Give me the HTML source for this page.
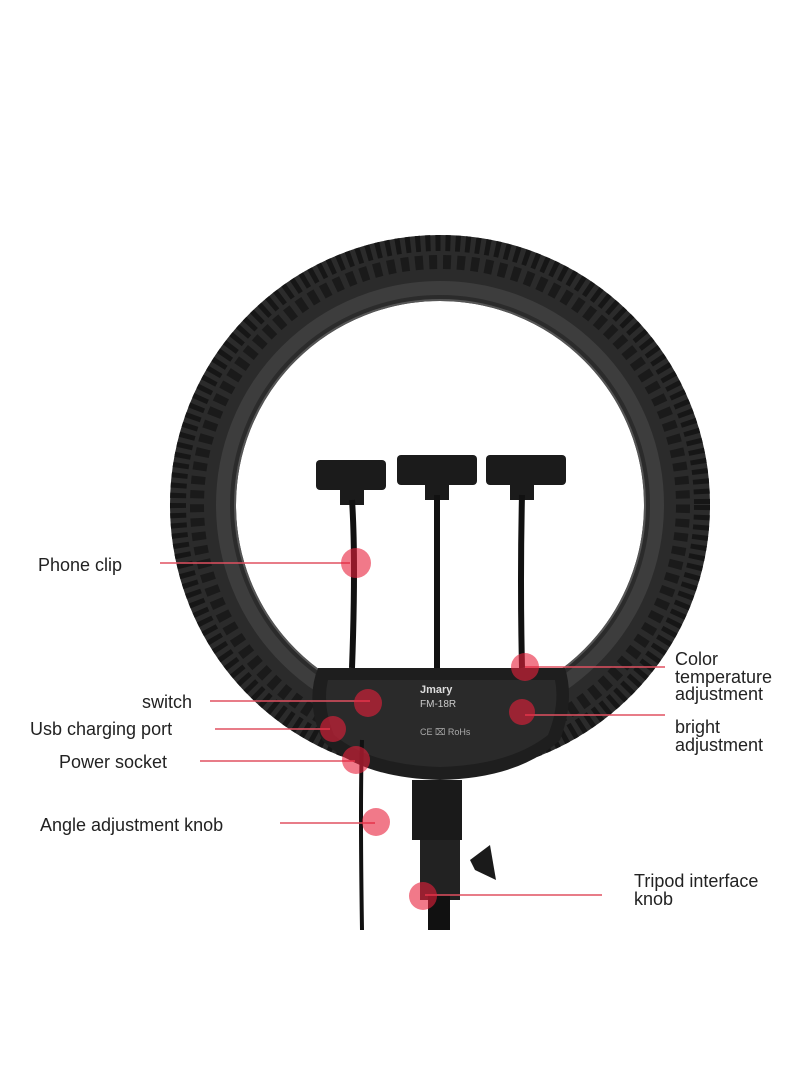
<!DOCTYPE html>
<html><head><meta charset="utf-8"><style>
html,body{margin:0;padding:0;background:#fff;}
svg{display:block}
text{font-family:"Liberation Sans",sans-serif;fill:#222;}
</style></head><body>
<svg width="800" height="1091" viewBox="0 0 800 1091" xmlns="http://www.w3.org/2000/svg">
<defs>
<radialGradient id="rg" cx="50%" cy="50%" r="50%">
<stop offset="0.75" stop-color="#3a3a3a"/><stop offset="0.88" stop-color="#2a2a2a"/><stop offset="1" stop-color="#151515"/>
</radialGradient>
</defs>
<!-- ring -->
<circle cx="440" cy="505" r="237" fill="none" stroke="#2b2b2b" stroke-width="66"/>
<circle cx="440" cy="505" r="262" fill="none" stroke="#161616" stroke-width="16" stroke-dasharray="5 5"/>
<circle cx="440" cy="505" r="243" fill="none" stroke="#1a1a1a" stroke-width="14" stroke-dasharray="8 6"/>
<circle cx="440" cy="505" r="217" fill="none" stroke="#3d3d3d" stroke-width="14"/>
<circle cx="440" cy="505" r="205" fill="none" stroke="#555" stroke-width="2"/>
<!-- control box -->
<path d="M318 668 L565 668 Q575 700 560 740 Q520 778 440 780 Q360 778 322 740 Q305 700 318 668 Z" fill="#1e1e1e"/>
<path d="M328 680 L555 680 Q560 705 548 735 Q510 765 440 767 Q370 765 334 735 Q322 705 328 680 Z" fill="#2a2a2a"/>
<text x="420" y="693" font-size="11" font-weight="bold" style="fill:#ddd">Jmary</text>
<text x="420" y="707" font-size="10" style="fill:#ccc">FM-18R</text>
<text x="420" y="735" font-size="9" style="fill:#aaa">CE  ⌧  RoHs</text>
<!-- phone clips -->
<g fill="#1b1b1b">
<rect x="316" y="460" width="70" height="30" rx="4"/>
<rect x="397" y="455" width="80" height="30" rx="4"/>
<rect x="486" y="455" width="80" height="30" rx="4"/>
<rect x="340" y="485" width="24" height="20"/>
<rect x="425" y="480" width="24" height="20"/>
<rect x="510" y="480" width="24" height="20"/>
</g>
<g stroke="#111" stroke-width="6" fill="none">
<path d="M352 500 Q356 560 352 668"/>
<path d="M437 495 L437 668"/>
<path d="M522 495 Q520 580 522 668"/>
</g>
<!-- stand -->
<rect x="412" y="780" width="50" height="60" fill="#1a1a1a"/>
<rect x="420" y="840" width="40" height="60" fill="#222"/>
<path d="M470 860 L490 845 L496 880 L475 870 Z" fill="#1a1a1a"/>
<rect x="428" y="895" width="22" height="35" fill="#111"/>
<path d="M362 740 Q360 800 362 930" stroke="#111" stroke-width="4" fill="none"/>
<!-- red lines -->
<g stroke="#e05060" stroke-width="1.5">
<line x1="160" y1="563" x2="350" y2="563"/>
<line x1="210" y1="701" x2="370" y2="701"/>
<line x1="215" y1="729" x2="330" y2="729"/>
<line x1="200" y1="761" x2="355" y2="761"/>
<line x1="280" y1="823" x2="375" y2="823"/>
<line x1="525" y1="667" x2="665" y2="667"/>
<line x1="525" y1="715" x2="665" y2="715"/>
<line x1="425" y1="895" x2="602" y2="895"/>
</g>
<g fill="#e8203a" fill-opacity="0.6">
<circle cx="356" cy="563" r="15"/>
<circle cx="368" cy="703" r="14"/>
<circle cx="333" cy="729" r="13"/>
<circle cx="356" cy="760" r="14"/>
<circle cx="376" cy="822" r="14"/>
<circle cx="525" cy="667" r="14"/>
<circle cx="522" cy="712" r="13"/>
<circle cx="423" cy="896" r="14"/>
</g>
<g font-size="18">
<text x="38" y="571">Phone clip</text>
<text x="142" y="708">switch</text>
<text x="30" y="735">Usb charging port</text>
<text x="59" y="768">Power socket</text>
<text x="40" y="831">Angle adjustment knob</text>
<text x="675" y="665">Color</text>
<text x="675" y="683">temperature</text>
<text x="675" y="700">adjustment</text>
<text x="675" y="733">bright</text>
<text x="675" y="751">adjustment</text>
<text x="634" y="887">Tripod interface</text>
<text x="634" y="905">knob</text>
</g>
</svg>
</body></html>
